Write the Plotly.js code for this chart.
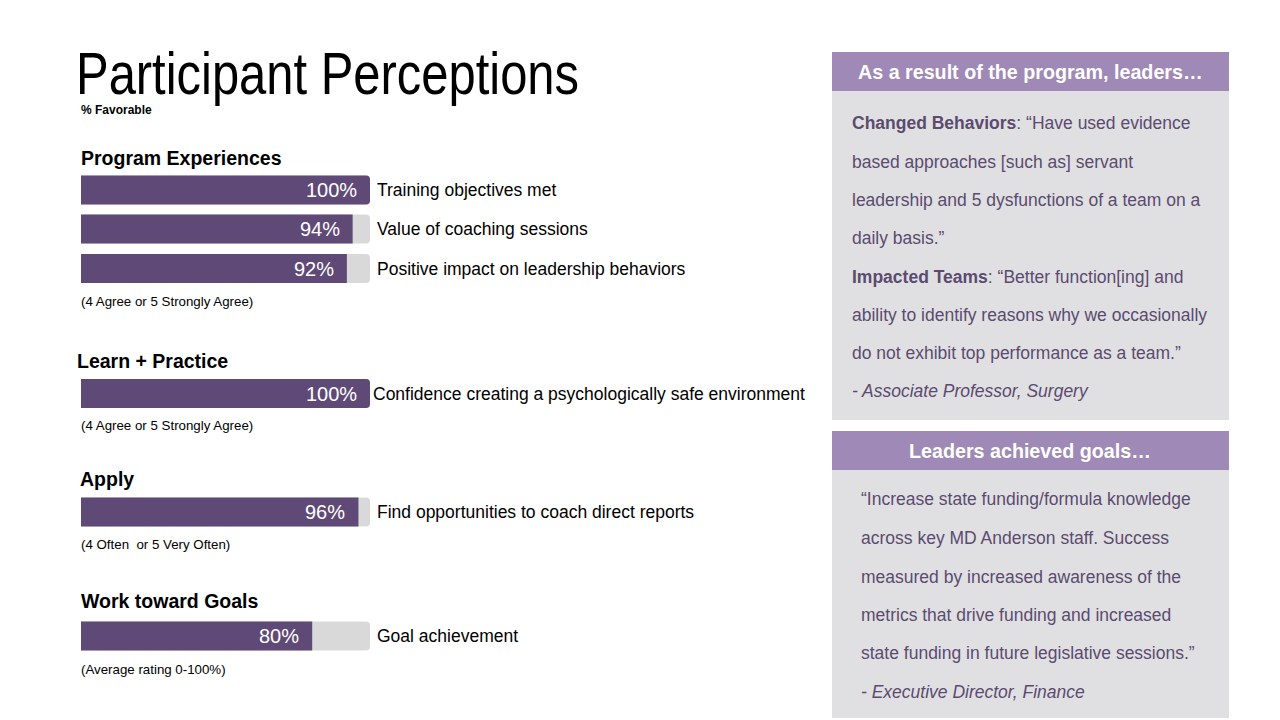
<!DOCTYPE html>
<html>
<head>
<meta charset="utf-8">
<script src="https://cdn.plot.ly/plotly-3.0.1.min.js"></script>
<style>html,body{margin:0;padding:0;background:#fff;}#chart{width:1280px;height:720px;}</style>
</head>
<body>
<div id="chart"></div>
<script>
// ---- Data ----
const categories = [
  'Training objectives met',
  'Value of coaching sessions',
  'Positive impact on leadership behaviors',
  'Confidence creating a psychologically safe environment',
  'Find opportunities to coach direct reports',
  'Goal achievement'
];
const values = [100, 94, 92, 100, 96, 80];
const groupNames = ['Program Experiences', 'Learn + Practice', 'Apply', 'Work toward Goals'];
const groupNotes = ['(4 Agree or 5 Strongly Agree)', '(4 Agree or 5 Strongly Agree)', '(4 Often  or 5 Very Often)', '(Average rating 0-100%)'];
const titleText = 'Participant Perceptions';
const subtitleText = '% Favorable';
const panel1Header = 'As a result of the program, leaders…';
const panel1Lines = [
  '<b>Changed Behaviors</b>: “Have used evidence',
  'based approaches [such as] servant',
  'leadership and 5 dysfunctions of a team on a',
  'daily basis.”',
  '<b>Impacted Teams</b>: “Better function[ing] and',
  'ability to identify reasons why we occasionally',
  'do not exhibit top performance as a team.”',
  '<i>- Associate Professor, Surgery</i>'
];
const panel2Header = 'Leaders achieved goals…';
const panel2Lines = [
  '“Increase state funding/formula knowledge',
  'across key MD Anderson staff. Success',
  'measured by increased awareness of the',
  'metrics that drive funding and increased',
  'state funding in future legislative sessions.”',
  '<i>- Executive Director, Finance</i>'
];

// ---- Layout positions (pixels) ----
const W = 1280, H = 720;
const rowY = [190, 229, 268.5, 393.5, 512, 636];
const groupHeadY = [158, 361, 479, 601];
const groupHeadX = [81, 77, 80, 81];
const groupNoteY = [301, 425, 544, 669];
const X0 = 81, X100 = 370;
const scale = (X100 - X0) / 100;
const px = x => x / W;
const py = y => 1 - y / H;

const FONT = 'Liberation Sans, Arial, sans-serif';
const BAR = '#5f4a77';
const BG = '#d9d9d9';
const HEAD = '#9f89b6';
const PANEL = '#e0e0e3';
const PTEXT = '#5b4b6f';

const traces = [
  {
    type: 'bar', orientation: 'h',
    x: values.map(() => 100), y: rowY, width: 29,
    marker: {color: BG, cornerradius: 4},
    hoverinfo: 'skip', showlegend: false, textposition: 'none'
  },
  {
    type: 'bar', orientation: 'h',
    x: values, y: rowY, width: 29,
    marker: {color: BAR, cornerradius: 4},
    hovertext: categories, hoverinfo: 'x+text', showlegend: false, textposition: 'none'
  }
];

const ann = [];
// title
ann.push({text: titleText, x: px(74), y: py(74), xref: 'paper', yref: 'paper', xanchor: 'left', yanchor: 'middle', align: 'left',
  showarrow: false, font: {family: FONT, size: 59, color: '#000'}});
ann.push({text: '<b>' + subtitleText + '</b>', x: px(79), y: py(110), xref: 'paper', yref: 'paper', xanchor: 'left', yanchor: 'middle',
  showarrow: false, font: {family: FONT, size: 12, color: '#000'}});
// group heads + notes
groupNames.forEach((g, i) => {
  ann.push({text: '<b>' + g + '</b>', x: px(groupHeadX[i] - 2), y: py(groupHeadY[i]), xref: 'paper', yref: 'paper',
    xanchor: 'left', yanchor: 'middle', showarrow: false, font: {family: FONT, size: 19.5, color: '#000'}});
  ann.push({text: groupNotes[i], x: px(79), y: py(groupNoteY[i]), xref: 'paper', yref: 'paper',
    xanchor: 'left', yanchor: 'middle', showarrow: false, font: {family: FONT, size: 13.3, color: '#000'}});
});
// value labels and category labels
values.forEach((v, i) => {
  ann.push({text: v + '%', x: v, y: rowY[i], xref: 'x', yref: 'y', xanchor: 'right', yanchor: 'middle',
    xshift: -11, showarrow: false, font: {family: FONT, size: 20, color: '#fff'}});
  ann.push({text: categories[i], x: 100, y: rowY[i], xref: 'x', yref: 'y', xanchor: 'left', yanchor: 'middle',
    xshift: i === 3 ? 1 : 5, showarrow: false, font: {family: FONT, size: 17.5, color: '#000'}});
});
// panels
const shapes = [
  {type: 'rect', xref: 'paper', yref: 'paper', x0: px(832), x1: px(1229), y0: py(52), y1: py(91), fillcolor: HEAD, line: {width: 0}, layer: 'below'},
  {type: 'rect', xref: 'paper', yref: 'paper', x0: px(832), x1: px(1229), y0: py(91), y1: py(420), fillcolor: PANEL, line: {width: 0}, layer: 'below'},
  {type: 'rect', xref: 'paper', yref: 'paper', x0: px(832), x1: px(1229), y0: py(431), y1: py(470), fillcolor: HEAD, line: {width: 0}, layer: 'below'},
  {type: 'rect', xref: 'paper', yref: 'paper', x0: px(832), x1: px(1229), y0: py(470), y1: py(718), fillcolor: PANEL, line: {width: 0}, layer: 'below'}
];
ann.push({text: '<b>' + panel1Header + '</b>', x: px(1030), y: py(72), xref: 'paper', yref: 'paper', xanchor: 'center', yanchor: 'middle',
  showarrow: false, font: {family: FONT, size: 19.7, color: '#fff'}});
ann.push({text: '<b>' + panel2Header + '</b>', x: px(1030), y: py(451), xref: 'paper', yref: 'paper', xanchor: 'center', yanchor: 'middle',
  showarrow: false, font: {family: FONT, size: 19.7, color: '#fff'}});
const p1Y = [123, 161.5, 200, 238, 276.5, 315, 353, 391.5];
panel1Lines.forEach((t, i) => {
  ann.push({text: t, x: px(850), y: py(p1Y[i]), xref: 'paper', yref: 'paper', xanchor: 'left', yanchor: 'middle',
    showarrow: false, font: {family: FONT, size: 17.5, color: PTEXT}});
});
const p2Y = [499, 538, 576.5, 615, 653, 692];
panel2Lines.forEach((t, i) => {
  ann.push({text: t, x: px(859), y: py(p2Y[i]), xref: 'paper', yref: 'paper', xanchor: 'left', yanchor: 'middle',
    showarrow: false, font: {family: FONT, size: 17.5, color: PTEXT}});
});

const layout = {
  width: W, height: H,
  margin: {l: 0, r: 0, t: 0, b: 0, pad: 0},
  paper_bgcolor: '#fff', plot_bgcolor: 'rgba(0,0,0,0)',
  barmode: 'overlay',
  showlegend: false,
  xaxis: {range: [-X0 / scale, (W - X0) / scale], visible: false, fixedrange: true},
  yaxis: {range: [H, 0], visible: false, fixedrange: true},
  shapes: shapes,
  annotations: ann
};

Plotly.newPlot('chart', traces, layout, {displayModeBar: false, staticPlot: true}).then(() => {
  // the reference title uses a condensed face: compress the title glyphs horizontally
  document.querySelectorAll('.annotation-text').forEach(n => {
    if (n.textContent === titleText) {
      n.setAttribute('textLength', 503);
      n.setAttribute('lengthAdjust', 'spacingAndGlyphs');
    }
  });
});
</script>
</body>
</html>
